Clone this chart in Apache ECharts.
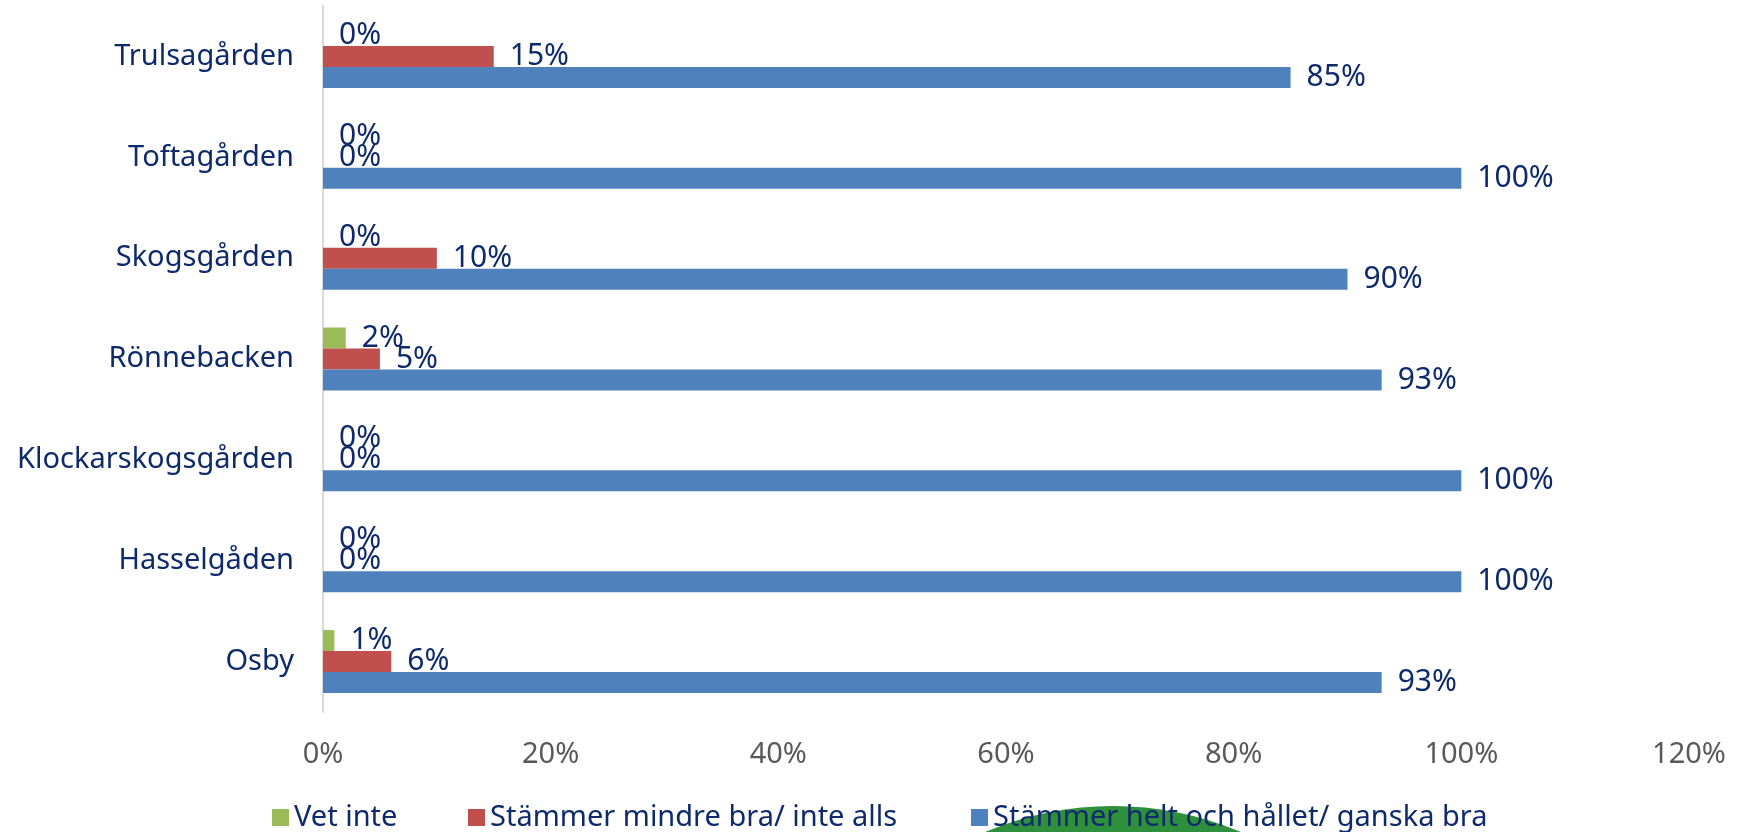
<!DOCTYPE html>
<html>
<head>
<meta charset="utf-8">
<script src="https://cdn.jsdelivr.net/npm/echarts@6/dist/echarts.min.js"></script>
<style>
  html, body { margin: 0; padding: 0; background: #fff; }
  #chart { width: 1738px; height: 832px; }
</style>
</head>
<body>
<div id="chart"></div>
<script>
const categories = ['Trulsagården', 'Toftagården', 'Skogsgården', 'Rönnebacken', 'Klockarskogsgården', 'Hasselgåden', 'Osby']
const seriesNames = ['Vet inte', 'Stämmer mindre bra/ inte alls', 'Stämmer helt och hållet/ ganska bra']
const vetInte = [0, 0, 0, 2, 0, 0, 1]
const mindreBra = [15, 0, 10, 5, 0, 0, 6]
const heltBra = [85, 100, 90, 93, 100, 100, 93]
const xTicks = { min: 0, max: 120, interval: 20 }

const colors = ['#9BBB59', '#C0504D', '#4F81BD']
const navy = '#0E2A6B'
const font = '"Noto Sans", "Open Sans", sans-serif'

const chart = echarts.init(document.getElementById('chart'), null, { renderer: 'canvas' })

function barSeries (name, data, color) {
  return {
    type: 'bar',
    name: name,
    data: data,
    barWidth: 21,
    barGap: '0%',
    itemStyle: { color: color },
    label: {
      show: true,
      position: 'right',
      distance: 16,
      formatter: '{c}%',
      color: navy,
      fontSize: 30,
      fontFamily: font
    }
  }
}

const legendBase = {
  top: 798,
  itemWidth: 17,
  itemHeight: 17,
  itemGap: 8,
  icon: 'rect',
  textStyle: { color: navy, fontSize: 29, fontFamily: font }
}

const option = {
  animation: false,
  color: colors,
  graphic: [
    {
      type: 'circle',
      z: -1,
      shape: { cx: 1113, cy: 1132, r: 326 },
      style: { fill: '#2E8F3C' }
    }
  ],
  grid: { left: 323, right: 49, top: 6, bottom: 120, containLabel: false },
  legend: [
    Object.assign({ left: 267, data: [seriesNames[0]] }, legendBase),
    Object.assign({ left: 463, data: [seriesNames[1]] }, legendBase),
    Object.assign({ left: 966, data: [seriesNames[2]] }, legendBase)
  ],
  xAxis: {
    type: 'value',
    min: xTicks.min,
    max: xTicks.max,
    interval: xTicks.interval,
    axisLine: { show: false },
    axisTick: { show: false },
    splitLine: { show: false },
    axisLabel: {
      formatter: '{value}%',
      color: '#595959',
      fontSize: 29,
      fontFamily: font,
      margin: 28
    }
  },
  yAxis: {
    type: 'category',
    inverse: true,
    data: categories,
    axisLine: { show: true, lineStyle: { color: '#D9D9D9', width: 2 } },
    axisTick: { show: false },
    axisLabel: {
      color: navy,
      fontSize: 29,
      fontFamily: font,
      margin: 29
    }
  },
  series: [
    barSeries(seriesNames[0], vetInte, colors[0]),
    barSeries(seriesNames[1], mindreBra, colors[1]),
    barSeries(seriesNames[2], heltBra, colors[2])
  ]
}

chart.setOption(option)
</script>
</body>
</html>
